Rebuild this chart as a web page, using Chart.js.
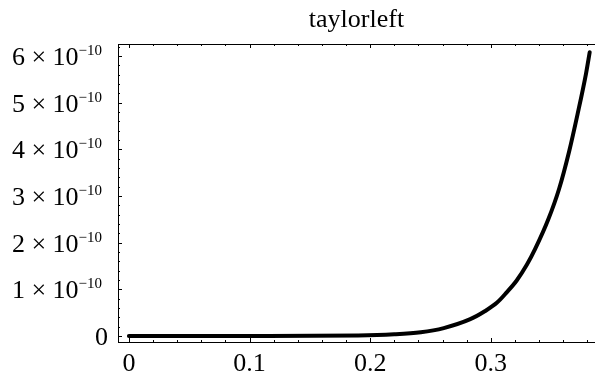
<!DOCTYPE html>
<html>
<head>
<meta charset="utf-8">
<script src="https://cdn.jsdelivr.net/npm/chart.js@4.4.1/dist/chart.umd.min.js"></script>
<style>
  html, body { margin: 0; padding: 0; background: #fff; }
  #wrap { width: 595px; height: 376px; }
</style>
</head>
<body>
<div id="wrap"><canvas id="chart" width="595" height="376"></canvas></div>
<script>
// --- data ---
const xValues = [0, 0.1, 0.19, 0.22, 0.242, 0.261, 0.283, 0.295, 0.305, 0.313, 0.3215, 0.33, 0.3367, 0.3477, 0.3566, 0.365, 0.372, 0.379, 0.382];
const yValues = [0, 0, 0.01e-10, 0.035e-10, 0.08e-10, 0.17e-10, 0.36e-10, 0.53e-10, 0.71e-10, 0.93e-10, 1.19e-10, 1.53e-10, 1.86e-10, 2.5e-10, 3.15e-10, 3.96e-10, 4.76e-10, 5.63e-10, 6.08e-10];

const xTicks = [0, 0.1, 0.2, 0.3];
const xTickLabels = ['0', '0.1', '0.2', '0.3'];
const xMinorTicks = [0.02, 0.04, 0.06, 0.08, 0.12, 0.14, 0.16, 0.18, 0.22, 0.24, 0.26, 0.28, 0.32, 0.34, 0.36, 0.38];

const yTicks = [0, 1e-10, 2e-10, 3e-10, 4e-10, 5e-10, 6e-10];
const yTickBase = ['0', '1 × 10', '2 × 10', '3 × 10', '4 × 10', '5 × 10', '6 × 10'];
const yTickExp = ['', '−10', '−10', '−10', '−10', '−10', '−10'];
const yMinorTicks = [0.2e-10, 0.4e-10, 0.6e-10, 0.8e-10, 1.2e-10, 1.4e-10, 1.6e-10, 1.8e-10,
  2.2e-10, 2.4e-10, 2.6e-10, 2.8e-10, 3.2e-10, 3.4e-10, 3.6e-10, 3.8e-10,
  4.2e-10, 4.4e-10, 4.6e-10, 4.8e-10, 5.2e-10, 5.4e-10, 5.6e-10, 5.8e-10, 6.2e-10];

const FONT = 'Liberation Serif';

// Ticks drawn inward + y labels with superscripts
const frameTicks = {
  id: 'frameTicks',
  afterDraw(chart) {
    const { ctx, chartArea: a } = chart;
    const xs = chart.scales.x, ys = chart.scales.y;
    ctx.save();
    ctx.strokeStyle = '#000';
    ctx.lineWidth = 1;
    ctx.beginPath();
    const xTick = (v, len) => {
      const px = Math.round(xs.getPixelForValue(v)) + 0.5;
      ctx.moveTo(px, a.bottom); ctx.lineTo(px, a.bottom - len);
      ctx.moveTo(px, a.top); ctx.lineTo(px, a.top + len);
    };
    const yTick = (v, len) => {
      const py = Math.round(ys.getPixelForValue(v)) + 0.5;
      ctx.moveTo(a.left, py); ctx.lineTo(a.left + len, py);
    };
    xTicks.forEach(v => xTick(v, 4));
    xMinorTicks.forEach(v => xTick(v, 2));
    yTicks.forEach(v => yTick(v, 4));
    yMinorTicks.forEach(v => yTick(v, 2));
    ctx.stroke();

    // y labels
    ctx.fillStyle = '#000';
    ctx.textBaseline = 'alphabetic';
    yTicks.forEach((v, i) => {
      const py = ys.getPixelForValue(v);
      if (!yTickExp[i]) {
        ctx.font = '26px "' + FONT + '"';
        ctx.textAlign = 'right';
        ctx.fillText(yTickBase[i], 108, py + 9);
        return;
      }
      ctx.font = '15px "' + FONT + '"';
      ctx.textAlign = 'right';
      ctx.fillText(yTickExp[i], 102, py - 1);
      const w = ctx.measureText(yTickExp[i]).width;
      ctx.font = '26px "' + FONT + '"';
      ctx.fillText(yTickBase[i], 102 - w, py + 9);
    });
    ctx.restore();
  }
};

new Chart(document.getElementById('chart'), {
  type: 'line',
  data: {
    datasets: [{
      data: xValues.map((x, i) => ({ x: x, y: yValues[i] })),
      borderColor: '#000',
      borderWidth: 4,
      borderCapStyle: 'round',
      borderJoinStyle: 'round',
      pointRadius: 0,
      fill: false,
      cubicInterpolationMode: 'monotone'
    }]
  },
  options: {
    responsive: false,
    animation: false,
    events: [],
    layout: { padding: 0 },
    plugins: {
      legend: { display: false },
      tooltip: { enabled: false },
      title: {
        display: true,
        text: 'taylorleft',
        fullSize: false,
        color: '#000',
        font: { family: FONT, size: 26, weight: 'normal', lineHeight: 1.2 },
        padding: { top: 5, bottom: 7.8 }
      }
    },
    scales: {
      x: {
        type: 'linear',
        position: 'bottom',
        min: -0.00903,
        max: 0.3864,
        afterBuildTicks: s => { s.ticks = xTicks.map(v => ({ value: v })); },
        afterFit: s => { s.height = 34; },
        grid: { display: false, drawTicks: false },
        border: { display: true, color: '#000', width: 1 },
        ticks: {
          padding: 7,
          color: '#000',
          maxRotation: 0,
          font: { family: FONT, size: 26 },
          callback: (v) => xTickLabels[xTicks.indexOf(v)]
        }
      },
      x2: {
        type: 'linear',
        position: 'top',
        min: -0.00903,
        max: 0.3864,
        afterFit: s => { s.height = 0; },
        grid: { display: false, drawTicks: false },
        border: { display: true, color: '#000', width: 1 },
        ticks: { display: false }
      },
      y: {
        type: 'linear',
        min: -0.1286e-10,
        max: 6.257e-10,
        afterBuildTicks: s => { s.ticks = yTicks.map(v => ({ value: v })); },
        afterFit: s => { s.width = 118; },
        grid: { display: false, drawTicks: false },
        border: { display: true, color: '#000', width: 1 },
        ticks: { display: false }
      }
    }
  },
  plugins: [frameTicks]
});
</script>
</body>
</html>
